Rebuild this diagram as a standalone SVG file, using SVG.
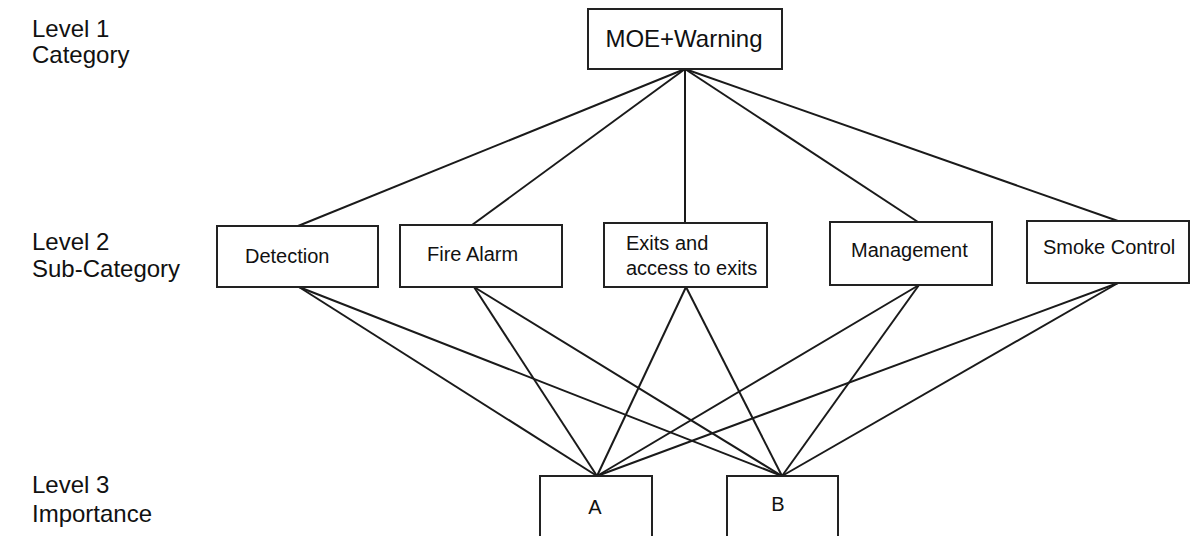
<svg xmlns="http://www.w3.org/2000/svg" width="1192" height="536" viewBox="0 0 1192 536">
  <style>
    .box { fill: #ffffff; stroke: #222222; stroke-width: 2; }
    .edge { stroke: #1a1a1a; stroke-width: 2; fill: none; }
    .lvl { font-family: "Liberation Sans", Arial, sans-serif; font-size: 24px; fill: #111111; }
    .lbl { font-family: "Liberation Sans", Arial, sans-serif; font-size: 20px; fill: #111111; }
    .top { font-family: "Liberation Sans", Arial, sans-serif; font-size: 24px; fill: #111111; }
  </style>
  <rect width="1192" height="536" fill="#ffffff"/>

  <!-- level captions -->
  <g id="levels">
    <text class="lvl" x="32" y="37">Level 1</text>
    <text class="lvl" x="32" y="63">Category</text>
    <text class="lvl" x="32" y="250">Level 2</text>
    <text class="lvl" x="32" y="277">Sub-Category</text>
    <text class="lvl" x="32" y="493">Level 3</text>
    <text class="lvl" x="32" y="522">Importance</text>
  </g>

  <!-- connectors -->
  <g id="connectors">
    <line class="edge" x1="685" y1="69" x2="298" y2="226"/>
    <line class="edge" x1="685" y1="69" x2="472" y2="225"/>
    <line class="edge" x1="685" y1="69" x2="685" y2="223"/>
    <line class="edge" x1="685" y1="69" x2="918" y2="222"/>
    <line class="edge" x1="685" y1="69" x2="1118" y2="221"/>

    <line class="edge" x1="299" y1="287" x2="597" y2="476"/>
    <line class="edge" x1="299" y1="287" x2="782" y2="476"/>
    <line class="edge" x1="474" y1="287" x2="597" y2="476"/>
    <line class="edge" x1="474" y1="287" x2="782" y2="476"/>
    <line class="edge" x1="686" y1="287" x2="597" y2="476"/>
    <line class="edge" x1="686" y1="287" x2="782" y2="476"/>
    <line class="edge" x1="919" y1="285" x2="597" y2="476"/>
    <line class="edge" x1="919" y1="285" x2="782" y2="476"/>
    <line class="edge" x1="1118" y1="283" x2="597" y2="476"/>
    <line class="edge" x1="1118" y1="283" x2="782" y2="476"/>
  </g>

  <g id="moe-warning">
    <rect class="box" x="588" y="9" width="194" height="60"/>
    <text class="top" x="684" y="47" text-anchor="middle">MOE+Warning</text>
  </g>

  <g id="detection">
    <rect class="box" x="217" y="226" width="161" height="61"/>
    <text class="lbl" x="245" y="263">Detection</text>
  </g>

  <g id="fire-alarm">
    <rect class="box" x="400" y="225" width="162" height="62"/>
    <text class="lbl" x="427" y="261">Fire Alarm</text>
  </g>

  <g id="exits">
    <rect class="box" x="604" y="223" width="163" height="64"/>
    <text class="lbl" x="626" y="250">Exits and</text>
    <text class="lbl" x="626" y="275">access to exits</text>
  </g>

  <g id="management">
    <rect class="box" x="830" y="222" width="162" height="63"/>
    <text class="lbl" x="851" y="257">Management</text>
  </g>

  <g id="smoke-control">
    <rect class="box" x="1027" y="221" width="162" height="62"/>
    <text class="lbl" x="1043" y="254">Smoke Control</text>
  </g>

  <g id="importance-a">
    <rect class="box" x="540" y="476" width="112" height="70"/>
    <text class="lbl" x="595" y="514" text-anchor="middle">A</text>
  </g>

  <g id="importance-b">
    <rect class="box" x="727" y="476" width="111" height="70"/>
    <text class="lbl" x="778" y="511" text-anchor="middle">B</text>
  </g>
</svg>
